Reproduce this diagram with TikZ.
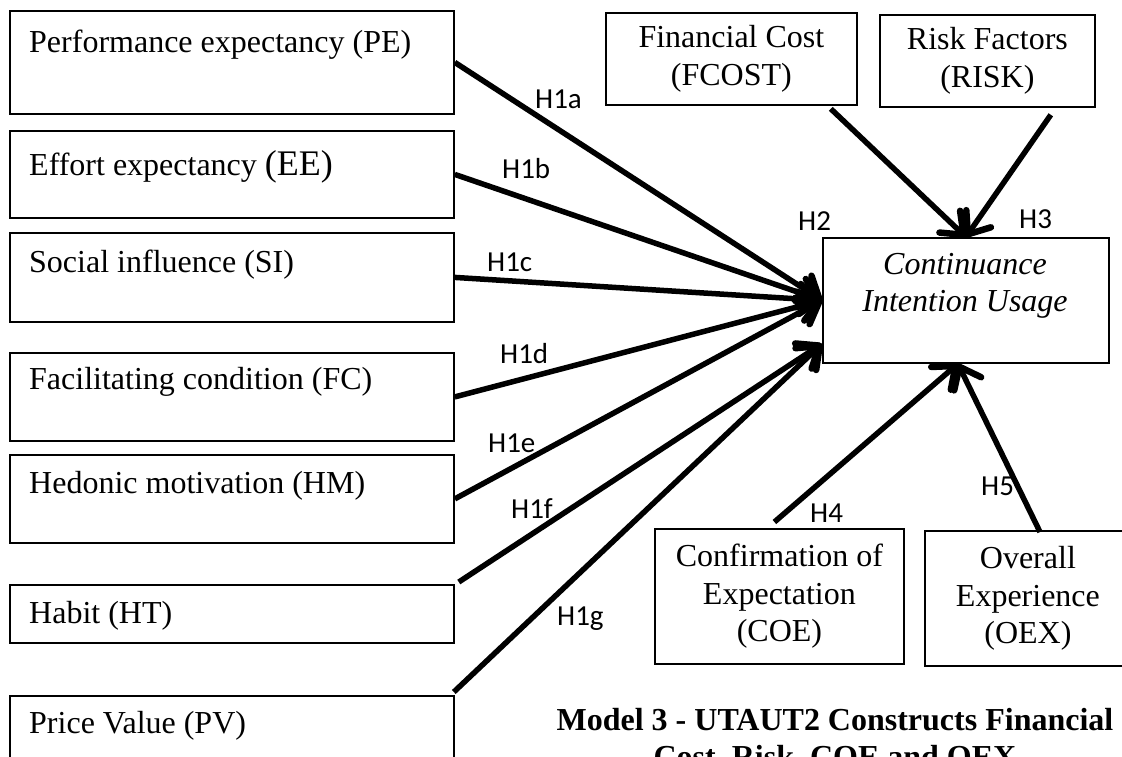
\documentclass[tikz,border=0pt]{standalone}
\usepackage{fontspec}
\setmainfont{Liberation Serif}
\newfontfamily\labfont{Carlito}
\usetikzlibrary{arrows.meta,calc}
\tikzset{
  box/.style={draw, line width=1.8pt, inner sep=0pt, anchor=north west, align=center,
    font=\fontsize{32}{37.5}\selectfont},
  ltext/.style={anchor=base west, inner sep=0pt, font=\fontsize{32}{37.5}\selectfont},
  hyp/.style={anchor=base west, inner sep=0pt, font=\labfont\fontsize{29}{30}\selectfont},
  arr/.style={line width=5.5pt, -{Straight Barb[length=19pt,width=30pt,line width=6.5pt,round]}},
}
\begin{document}
\begin{tikzpicture}[x=1pt,y=-1pt]
\clip (0,0) rectangle (1122,756);
% left boxes
\node[box, minimum width=444pt, minimum height=103pt] (pe) at (9,10) {};
\node[box, minimum width=444pt, minimum height=87pt] (ee) at (9,130) {};
\node[box, minimum width=444pt, minimum height=89pt] (si) at (9,232) {};
\node[box, minimum width=444pt, minimum height=88pt] (fc) at (9,352) {};
\node[box, minimum width=444pt, minimum height=88pt] (hm) at (9,454) {};
\node[box, minimum width=444pt, minimum height=58pt] (ht) at (9,584) {};
\node[box, minimum width=444pt, minimum height=88pt] (pv) at (9,695) {};
\node[ltext] (pet) at (29,52) {Performance expectancy (PE)};
\node[ltext] (eet) at (29,175) {Effort expectancy {\fontsize{36}{40}\selectfont(EE)}};
\node[ltext] (sit) at (29,272) {Social influence (SI)};
\node[ltext] (fct) at (29,389) {Facilitating condition (FC)};
\node[ltext] (hmt) at (29,493) {Hedonic motivation (HM)};
\node[ltext] (htt) at (29,623) {Habit (HT)};
\node[ltext] (pvt) at (29,733) {Price Value (PV)};
% right boxes
\node[box, minimum width=251pt, minimum height=92pt] (fcost) at (605,12) {Financial Cost\\(FCOST)};
\node[box, minimum width=215pt, minimum height=92pt] (risk) at (879,14) {Risk Factors\\(RISK)};
\node[box, minimum width=286pt, minimum height=125pt] (ciu) at (822,237) {};
\node[align=center, inner sep=0pt, font=\itshape\fontsize{32}{37.5}\selectfont] (ciut) at (965,286) {Continuance\\Intention Usage};
\node[box, minimum width=249pt, minimum height=135pt] (coe) at (654,528) {Confirmation of\\Expectation\\(COE)};
\node[box, minimum width=206pt, minimum height=135pt] (oex) at (924,530) {Overall\\Experience\\(OEX)};
% title
\node[align=center, inner sep=0pt, font=\bfseries\fontsize{32}{37}\selectfont] (title) at (835,740)
  {Model 3 - UTAUT2 Constructs Financial\\Cost, Risk, COE and OEX};
% connector end points
\coordinate (tipL) at ($(ciu.south west)+(0,-20)$);
\coordinate (tipB) at ($(ciu.south)+(-8,0)$);
\coordinate (htS) at ($(ht.north east)+(4,-2)$);
\coordinate (pvS) at ($(pv.north east)+(-1,-3)$);
\coordinate (fcostS) at ($(fcost.south east)+(-27,3)$);
\coordinate (riskS) at ($(risk.south east)+(-45,7)$);
\coordinate (coeS) at ($(coe.north)+(-5,-6)$);
\coordinate (oexS) at ($(oex.north west)+(116,2)$);
% connectors
\draw[arr] (pe.east) -- (ciu.west);
\draw[arr] (ee.east) -- (ciu.west);
\draw[arr] (si.east) -- (ciu.west);
\draw[arr] (fc.east) -- (ciu.west);
\draw[arr] (hm.east) -- (ciu.west);
\draw[arr] (htS) -- (tipL);
\draw[arr] (pvS) -- (tipL);
\draw[arr] (fcostS) -- (ciu.north);
\draw[arr] (riskS) -- (ciu.north);
\draw[arr] (coeS) -- (tipB);
\draw[arr] (oexS) -- (tipB);
% labels
\node[hyp] (h1a) at (535,108) {H1a};
\node[hyp] (h1b) at (502,178) {H1b};
\node[hyp] (h1c) at (487,271) {H1c};
\node[hyp] (h1d) at (500,363) {H1d};
\node[hyp] (h1e) at (488,452) {H1e};
\node[hyp] (h1f) at (511,518) {H1f};
\node[hyp] (h1g) at (557,625) {H1g};
\node[hyp] (h2) at (798,230) {H2};
\node[hyp] (h3) at (1019,228) {H3};
\node[hyp] (h4) at (810,522) {H4};
\node[hyp] (h5) at (981,495) {H5};
\end{tikzpicture}
\end{document}
